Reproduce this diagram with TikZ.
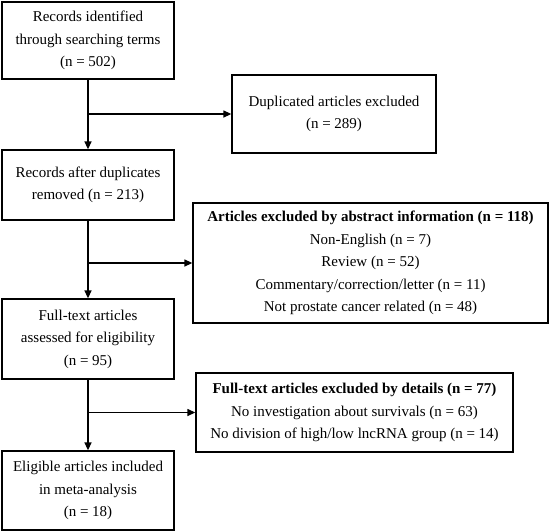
\documentclass[tikz,border=0pt]{standalone}
\usepackage{fontspec}
\setmainfont{Liberation Serif}
\usetikzlibrary{arrows.meta}
\begin{document}
\begin{tikzpicture}[x=1pt,y=-1pt,
  box/.style={draw, line width=1.3pt, align=center, inner sep=0pt,
    font=\fontsize{15}{22.5}\selectfont},
  conn/.style={line width=1.3pt, -{Triangle[length=8pt,width=7pt]}},
  line/.style={line width=1.3pt}]
\useasboundingbox (0,0) rectangle (550,531);
\node[box, minimum width=172pt, minimum height=77pt] (b1) at (88,40.5)
  {Records identified\\through searching terms\\(n = 502)};
\node[box, minimum width=204pt, minimum height=78pt] (dup) at (334,114)
  {Duplicated articles excluded\\(n = 289)};
\node[box, minimum width=172pt, minimum height=70pt] (b2) at (88,185)
  {Records after duplicates\\removed (n = 213)};
\node[box, minimum width=355pt, minimum height=120pt] (abs) at (370.5,263)
  {\textbf{Articles excluded by abstract information (n = 118)}\\Non-English (n = 7)\\Review (n = 52)\\Commentary/correction/letter (n = 11)\\Not prostate cancer related (n = 48)};
\node[box, minimum width=172pt, minimum height=80pt] (b3) at (88,339)
  {Full-text articles\\assessed for eligibility\\(n = 95)};
\node[box, minimum width=317pt, minimum height=79pt] (ft) at (354.5,412.5)
  {\textbf{Full-text articles excluded by details (n = 77)}\\No investigation about survivals (n = 63)\\No division of high/low lncRNA group (n = 14)};
\node[box, minimum width=172pt, minimum height=79pt] (b5) at (88,490.5)
  {Eligible articles included\\in meta-analysis\\(n = 18)};
\draw[conn] (b1.south) -- (b2.north);
\draw[conn] (b2.south) -- (b3.north);
\draw[conn] (b3.south) -- (b5.north);
\coordinate (j1) at (b1.south |- dup.west);
\coordinate (j2) at (b2.south |- abs.west);
\coordinate (j3) at (b3.south |- ft.west);
\draw[conn] (j1) -- (dup.west);
\draw[conn] (j2) -- (abs.west);
\draw[conn] (j3) -- (ft.west);
\end{tikzpicture}
\end{document}
